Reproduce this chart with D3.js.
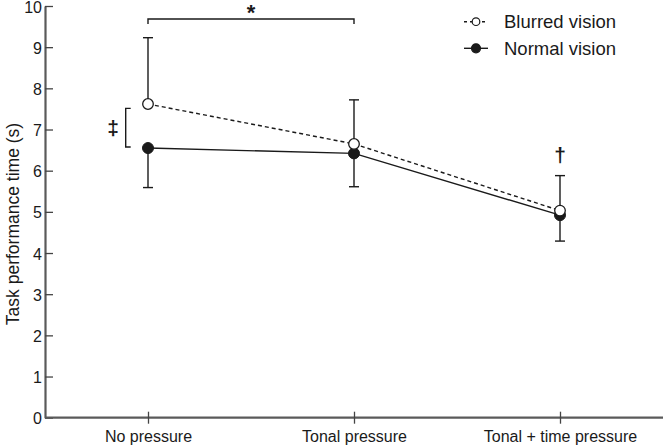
<!DOCTYPE html>
<html>
<head>
<meta charset="utf-8">
<script src="https://cdn.jsdelivr.net/npm/d3@7"></script>
<style>
  html, body { margin: 0; padding: 0; background: #fff; }
  svg { display: block; font-family: "Liberation Sans", Arial, sans-serif; }
</style>
</head>
<body>
<svg id="chart" width="663" height="445"></svg>
<script>
// ---- Data ----
const categories = ["No pressure", "Tonal pressure", "Tonal + time pressure"];
const blurredMean = [7.62, 6.65, 5.03];
const normalMean = [6.55, 6.42, 4.92];
const blurredUpper = [9.23, 7.72, 5.88];   // upper error bar end (blurred vision)
const normalLower = [5.59, 5.61, 4.29];    // lower error bar end (normal vision)
const yTicks = [0, 1, 2, 3, 4, 5, 6, 7, 8, 9, 10];
const seriesNames = ["Blurred vision", "Normal vision"];

// ---- Layout ----
const svg = d3.select("#chart");
const x = d3.scalePoint().domain(categories).range([45, 663]).padding(0.5);
const y = d3.scaleLinear().domain([0, 10]).range([417.7, 6]);
const ink = "#1a1a1a";

// ---- Axes ----
const yAxis = d3.axisLeft(y).tickValues(yTicks).tickSizeInner(-8).tickSizeOuter(0).tickPadding(3);
const gy = svg.append("g").attr("transform", "translate(45,0)").call(yAxis);
gy.select(".domain").attr("stroke", "#5a5a5a").attr("stroke-width", 2.2);
gy.selectAll(".tick line").attr("stroke", "#444").attr("stroke-width", 1.3);
gy.selectAll(".tick text").attr("font-size", 16).attr("fill", ink)
  .attr("font-family", "Liberation Sans, Arial, sans-serif")
  .attr("dy", "0.38em");

const xAxis = d3.axisBottom(x).tickSizeInner(6).tickSizeOuter(0).tickPadding(7);
const gx = svg.append("g").attr("transform", `translate(0,${y(0)})`).call(xAxis);
gx.select(".domain").attr("stroke", "#5a5a5a").attr("stroke-width", 2.2)
  .attr("d", `M45,0H663`);
gx.selectAll(".tick line").attr("stroke", "#444").attr("stroke-width", 1.3).attr("y1", -6).attr("y2", 6);
gx.selectAll(".tick text").attr("font-size", 16).attr("fill", ink)
  .attr("font-family", "Liberation Sans, Arial, sans-serif")
  .attr("dy", null).attr("y", 24.5);

// y label
svg.append("text")
  .attr("transform", `translate(19,224) rotate(-90)`)
  .attr("text-anchor", "middle")
  .attr("font-size", 17.5).attr("fill", ink)
  .text("Task performance time (s)");

// ---- Error bars ----
const capW = 5;
const eb = svg.append("g").attr("stroke", ink).attr("stroke-width", 1.4).attr("fill", "none");
categories.forEach((c, i) => {
  const cx = x(c);
  eb.append("line").attr("x1", cx).attr("x2", cx).attr("y1", y(blurredMean[i])).attr("y2", y(blurredUpper[i]));
  eb.append("line").attr("x1", cx - capW).attr("x2", cx + capW).attr("y1", y(blurredUpper[i])).attr("y2", y(blurredUpper[i]));
  eb.append("line").attr("x1", cx).attr("x2", cx).attr("y1", y(normalMean[i])).attr("y2", y(normalLower[i]));
  eb.append("line").attr("x1", cx - capW).attr("x2", cx + capW).attr("y1", y(normalLower[i])).attr("y2", y(normalLower[i]));
});

// ---- Lines ----
const line = d3.line().x((d, i) => x(categories[i])).y(d => y(d));
svg.append("path").datum(normalMean).attr("d", line)
  .attr("fill", "none").attr("stroke", ink).attr("stroke-width", 1.4);
svg.append("path").datum(blurredMean).attr("d", line)
  .attr("fill", "none").attr("stroke", ink).attr("stroke-width", 1.4).attr("stroke-dasharray", "4,3");

// ---- Markers ----
svg.append("g").selectAll("circle").data(normalMean).join("circle")
  .attr("cx", (d, i) => x(categories[i])).attr("cy", d => y(d)).attr("r", 5.5)
  .attr("fill", ink).attr("stroke", ink).attr("stroke-width", 1);
svg.append("g").selectAll("circle").data(blurredMean).join("circle")
  .attr("cx", (d, i) => x(categories[i])).attr("cy", d => y(d)).attr("r", 5.3)
  .attr("fill", "#fff").attr("stroke", ink).attr("stroke-width", 1.3);

// ---- Significance annotations ----
const x0 = x(categories[0]), x1 = x(categories[1]), x2 = x(categories[2]);
svg.append("path")
  .attr("d", `M${x0},24V19H${x1}V24`)
  .attr("fill", "none").attr("stroke", ink).attr("stroke-width", 1.4);
svg.append("text").attr("x", (x0 + x1) / 2).attr("y", 20)
  .attr("text-anchor", "middle").attr("font-size", 22).attr("font-weight", "bold").attr("fill", ink)
  .text("*");

const bx = 125.7;
svg.append("path")
  .attr("d", `M${bx + 5},${y(7.61) + 4}H${bx}V${y(6.55) - 1}H${bx + 5}`)
  .attr("fill", "none").attr("stroke", ink).attr("stroke-width", 1.4);
svg.append("text").attr("x", 113).attr("y", 135)
  .attr("text-anchor", "middle").attr("font-size", 21).attr("font-weight", "bold").attr("fill", ink)
  .text("‡");

svg.append("text").attr("x", x2).attr("y", 162)
  .attr("text-anchor", "middle").attr("font-size", 21).attr("font-weight", "bold").attr("fill", ink)
  .text("†");

// ---- Legend ----
const lg = svg.append("g");
const legY = [21.7, 48.3];
seriesNames.forEach((name, i) => {
  const yy = legY[i];
  lg.append("line").attr("x1", 464).attr("x2", 488).attr("y1", yy).attr("y2", yy)
    .attr("stroke", ink).attr("stroke-width", 1.4)
    .attr("stroke-dasharray", i === 0 ? "3,3" : null);
  lg.append("circle").attr("cx", 476).attr("cy", yy).attr("r", i === 0 ? 3.8 : 4.5)
    .attr("fill", i === 0 ? "#fff" : ink).attr("stroke", ink).attr("stroke-width", 1.2);
  lg.append("text").attr("x", 504).attr("y", yy + 6.5)
    .attr("font-size", 18.5).attr("fill", ink).text(name);
});
</script>
</body>
</html>
